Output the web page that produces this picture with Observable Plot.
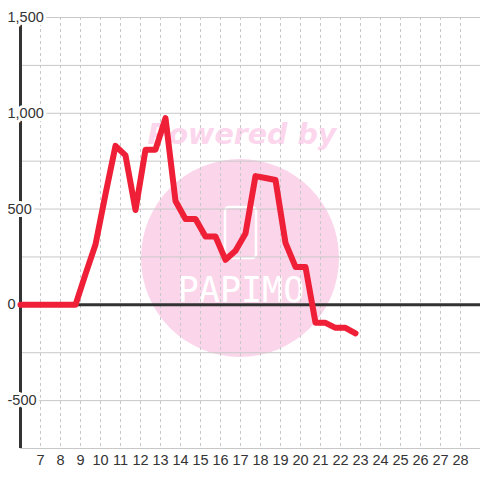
<!DOCTYPE html>
<html><head><meta charset="utf-8">
<script src="https://cdn.jsdelivr.net/npm/d3@7"></script>
<script src="https://cdn.jsdelivr.net/npm/@observablehq/plot@0.6"></script>
<style>
body{margin:0;background:#fff;}
#wrap{position:relative;width:480px;height:480px;overflow:hidden;background:#fff;}
#wm{position:absolute;left:0;top:0;}
#chart{position:relative;z-index:1;}
</style>
</head><body>
<div id="wrap">
<svg id="wm" width="480" height="480">
  <circle cx="240" cy="258" r="99" fill="#fbd6eb"/>
  <text x="242" y="144" text-anchor="middle" font-family="DejaVu Sans" font-weight="bold" font-style="italic" font-size="28.5" fill="#fcd6ec">Powered by</text>
  <rect x="225" y="207" width="31" height="51" rx="4" fill="none" stroke="#fff" stroke-width="2.5"/>
  <text x="241" y="302" text-anchor="middle" font-family="DejaVu Sans Mono" font-size="35" fill="#fff">PAPIMO</text>
</svg>
<div id="chart"></div>
</div>
<script>
const days = [6, 6.25, 6.75, 7.25, 7.75, 8.25, 8.75, 9.25, 9.75, 10.25, 10.75, 11.25, 11.75, 12.25, 12.75, 13.25, 13.75, 14.25, 14.75, 15.25, 15.75, 16.25, 16.75, 17.25, 17.75, 18.25, 18.75, 19.25, 19.75, 20.25, 20.75, 21.25, 21.75, 22.25, 22.75];
const values = [0, 0, 0, 0, 0, 0, 0, 160, 315, 578, 830, 780, 495, 810, 810, 975, 542, 448, 448, 357, 357, 235, 282, 372, 672, 662, 652, 323, 198, 198, -94, -94, -120, -120, -149];
const xTicks = [7, 8, 9, 10, 11, 12, 13, 14, 15, 16, 17, 18, 19, 20, 21, 22, 23, 24, 25, 26, 27, 28];
const yGrid = [-750, -500, -250, 0, 250, 500, 750, 1000, 1250, 1500];
const yLabels = [1500, 1000, 500, 0, -500];

const data = days.map((d, i) => ({day: d, value: values[i]}));
const fmt = d => d.toLocaleString("en-US");

const chart = Plot.plot({
  width: 480, height: 480,
  marginLeft: 20, marginRight: 0, marginTop: 17, marginBottom: 32,
  x: {domain: [6, 29], axis: null},
  y: {domain: [-750, 1500], axis: null},
  style: {background: "transparent", fontFamily: "'Liberation Sans', Arial, sans-serif", fontSize: "14.5px", color: "#333"},
  marks: [
    Plot.ruleY(yGrid, {stroke: "#c8c8c8", strokeWidth: 1}),
    Plot.ruleX(xTicks, {stroke: "#c8c8c8", strokeWidth: 1, strokeDasharray: "3,3"}),
    Plot.ruleX([6], {stroke: "#333", strokeWidth: 3}),
    Plot.ruleY([0], {stroke: "#333", strokeWidth: 3}),
    Plot.text(yLabels, {y: d => d, frameAnchor: "left", dx: -13, textAnchor: "start", text: fmt, fill: "#333", stroke: "white", strokeWidth: 6, fontSize: 14.5}),
    Plot.text(xTicks, {x: d => d, frameAnchor: "bottom", lineAnchor: "top", dy: 6, text: d => String(d), fill: "#333", fontSize: 14.5}),
    Plot.line(data, {x: "day", y: "value", stroke: "#ee1f36", strokeWidth: 6, strokeLinecap: "round", strokeLinejoin: "round"})
  ]
});
document.getElementById("chart").appendChild(chart);
</script>
</body></html>
